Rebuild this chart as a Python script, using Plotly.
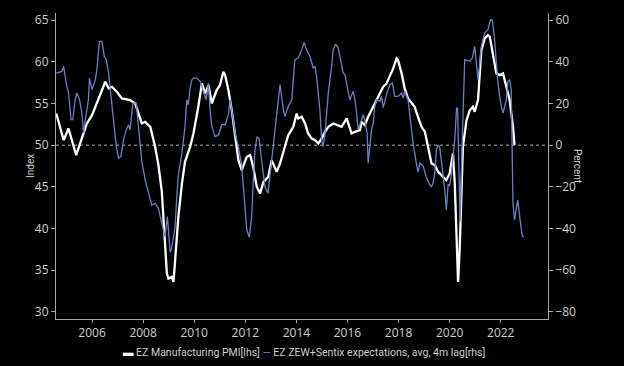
import plotly.graph_objects as go

# EZ Manufacturing PMI (left axis), time in decimal years
pmi_t = [2004.60, 2004.89, 2005.08, 2005.38, 2005.61, 2005.80, 2006.00, 2006.13, 2006.32, 2006.52,
         2006.65, 2006.78, 2006.97, 2007.17, 2007.49, 2007.69, 2007.82, 2007.95, 2008.08, 2008.28,
         2008.47, 2008.60, 2008.73, 2008.86, 2008.93, 2008.99, 2009.12, 2009.19, 2009.25, 2009.38,
         2009.52, 2009.64, 2009.84, 2009.97, 2010.16, 2010.30, 2010.43, 2010.56, 2010.69, 2010.88,
         2011.01, 2011.14, 2011.21, 2011.34, 2011.47, 2011.60, 2011.73, 2011.86, 2012.06, 2012.19,
         2012.31, 2012.45, 2012.58, 2012.71, 2012.90, 2013.03, 2013.23, 2013.36, 2013.49, 2013.68,
         2013.88, 2014.01, 2014.07, 2014.21, 2014.34, 2014.46, 2014.60, 2014.73, 2014.86, 2014.99,
         2015.12, 2015.25, 2015.44, 2015.64, 2015.77, 2015.97, 2016.09, 2016.16, 2016.29, 2016.49,
         2016.55, 2016.68, 2016.81, 2017.01, 2017.20, 2017.40, 2017.53, 2017.66, 2017.79, 2017.92,
         2017.98, 2018.12, 2018.24, 2018.37, 2018.51, 2018.63, 2018.76, 2018.90, 2019.03, 2019.16,
         2019.29, 2019.42, 2019.55, 2019.74, 2019.87, 2020.00, 2020.13, 2020.20, 2020.27, 2020.33,
         2020.39, 2020.46, 2020.52, 2020.66, 2020.79, 2020.91, 2020.98, 2021.11, 2021.18, 2021.24,
         2021.37, 2021.50, 2021.57, 2021.70, 2021.83, 2021.96, 2022.09, 2022.22, 2022.35, 2022.48,
         2022.54]
pmi = [53.8, 50.6, 52.0, 48.8, 50.9, 52.6, 53.6, 54.6, 56.2, 57.6,
       56.8, 57.0, 56.4, 55.6, 55.4, 55.0, 53.8, 52.6, 52.8, 52.2,
       49.8, 47.6, 44.5, 38.2, 34.6, 34.0, 34.2, 33.6, 35.8, 41.4,
       45.4, 48.0, 49.8, 51.4, 54.6, 57.4, 56.2, 57.2, 55.0, 56.6,
       57.2, 58.8, 58.4, 56.6, 54.2, 51.4, 48.2, 47.0, 48.6, 48.8,
       47.4, 45.0, 44.2, 45.6, 46.2, 48.2, 46.8, 47.8, 49.2, 51.2,
       52.2, 53.8, 53.2, 53.4, 52.6, 51.4, 50.8, 50.6, 50.2, 50.8,
       51.6, 52.2, 52.6, 52.4, 52.2, 53.2, 52.2, 51.4, 51.6, 51.8,
       52.8, 52.4, 53.4, 54.6, 55.8, 57.0, 57.4, 58.2, 59.2, 60.4,
       60.2, 58.6, 56.8, 55.6, 55.0, 54.6, 53.4, 52.2, 51.6, 49.5,
       47.8, 47.6, 46.8, 46.2, 45.8, 46.6, 49.0, 45.4, 39.4, 33.6,
       37.4, 45.4, 49.8, 53.0, 54.2, 54.6, 54.0, 55.4, 58.2, 61.4,
       62.8, 63.2, 63.0, 61.0, 58.6, 58.4, 58.6, 57.0, 55.4, 52.2,
       50.0]

# EZ ZEW+Sentix expectations, avg, 4m lag (right axis, percent)
zew_t = [2004.60, 2004.82, 2004.89, 2004.99, 2005.08, 2005.18, 2005.25, 2005.34, 2005.41, 2005.51,
         2005.61, 2005.67, 2005.74, 2005.86, 2005.90, 2006.00, 2006.13, 2006.19, 2006.29, 2006.39,
         2006.48, 2006.56, 2006.65, 2006.71, 2006.84, 2006.95, 2007.04, 2007.13, 2007.23, 2007.34,
         2007.43, 2007.49, 2007.60, 2007.73, 2007.82, 2007.95, 2008.08, 2008.21, 2008.34, 2008.47,
         2008.60, 2008.73, 2008.86, 2008.95, 2009.06, 2009.12, 2009.25, 2009.32, 2009.38, 2009.52,
         2009.64, 2009.71, 2009.77, 2009.84, 2009.91, 2009.97, 2010.10, 2010.23, 2010.36, 2010.47,
         2010.56, 2010.62, 2010.69, 2010.82, 2010.95, 2011.08, 2011.21, 2011.34, 2011.40, 2011.47,
         2011.60, 2011.73, 2011.86, 2011.95, 2012.06, 2012.16, 2012.25, 2012.31, 2012.38, 2012.46,
         2012.54, 2012.64, 2012.77, 2012.89, 2013.03, 2013.23, 2013.36, 2013.49, 2013.55, 2013.68,
         2013.82, 2013.94, 2014.07, 2014.21, 2014.30, 2014.40, 2014.53, 2014.66, 2014.73, 2014.79,
         2014.92, 2014.99, 2015.05, 2015.12, 2015.18, 2015.25, 2015.38, 2015.44, 2015.54, 2015.64,
         2015.73, 2015.83, 2015.90, 2016.03, 2016.09, 2016.22, 2016.29, 2016.36, 2016.42, 2016.55,
         2016.61, 2016.68, 2016.77, 2016.81, 2016.88, 2016.94, 2017.01, 2017.07, 2017.14, 2017.27,
         2017.33, 2017.40, 2017.53, 2017.66, 2017.76, 2017.85, 2017.98, 2018.12, 2018.18, 2018.24,
         2018.37, 2018.44, 2018.57, 2018.70, 2018.76, 2018.83, 2018.96, 2019.09, 2019.22, 2019.29,
         2019.35, 2019.42, 2019.48, 2019.55, 2019.61, 2019.74, 2019.81, 2019.87, 2019.94, 2020.00,
         2020.07, 2020.20, 2020.27, 2020.31, 2020.41, 2020.50, 2020.59, 2020.79, 2020.89, 2020.98,
         2021.05, 2021.11, 2021.18, 2021.24, 2021.37, 2021.50, 2021.60, 2021.67, 2021.76, 2021.83,
         2021.89, 2021.96, 2022.02, 2022.09, 2022.15, 2022.22, 2022.28, 2022.35, 2022.41, 2022.48,
         2022.54, 2022.66, 2022.75, 2022.84, 2022.90]
zew = [34.6, 35.4, 37.8, 29.8, 25.0, 12.2, 12.2, 21.8, 25.0, 21.8,
       14.6, 5.8, 12.2, 21.8, 32.2, 26.6, 31.4, 36.2, 49.8, 49.8,
       42.6, 41.0, 34.6, 26.6, 12.2, -0.7, -6.2, -5.5, 2.5, 7.3,
       9.8, 7.3, 20.2, 20.2, 7.3, -8.0, -16.7, -23.0, -28.7, -27.9,
       -30.3, -37.5, -43.9, -34.3, -51.2, -49.5, -39.1, -24.7, -14.3, -3.8,
       8.9, 21.8, 19.4, 27.4, 31.4, 32.2, 32.2, 30.6, 25.8, 21.8,
       29.8, 17.0, 8.9, 4.1, 4.9, 9.8, 9.8, 14.6, 21.8, 17.0,
       5.8, -0.7, -10.0, -25.0, -40.7, -44.2, -34.3, -18.3, -2.3, 4.1,
       3.0, -7.1, -20.0, -23.0, -8.0, 12.0, 29.0, 17.0, 13.7, 18.6,
       21.8, 41.0, 41.8, 45.8, 49.3, 45.8, 42.6, 37.0, 37.8, 33.0,
       17.0, 2.5, -0.7, 5.8, 17.0, 25.0, 37.8, 45.8, 48.5, 46.6,
       41.0, 34.6, 33.8, 25.0, 21.8, 25.8, 21.8, 15.4, 7.3, 12.2,
       14.6, 12.0, 5.8, -8.7, 1.0, 7.3, 10.6, 18.6, 21.8, 21.0,
       23.4, 18.0, 24.5, 29.0, 29.8, 23.4, 23.4, 25.0, 22.6, 26.0,
       21.8, 13.7, 1.0, -9.0, -13.0, -8.5, -10.0, -15.5, -19.0, -19.9,
       -18.3, -13.0, -2.3, 0.1, -1.0, -14.0, -21.5, -31.1, -18.8, -19.5,
       -13.5, 2.5, 17.8, 17.8, -36.5, 5.0, 41.0, 40.2, 41.8, 47.4,
       40.2, 31.4, 39.4, 47.4, 53.8, 55.4, 60.2, 59.9, 50.6, 37.8,
       29.8, 23.4, 18.6, 15.4, 18.6, 21.8, 30.6, 31.4, 26.6, -28.0,
       -35.9, -26.3, -35.0, -43.5, -44.2]

year_ticks = [2006, 2008, 2010, 2012, 2014, 2016, 2018, 2020, 2022]
left_ticks = [30, 35, 40, 45, 50, 55, 60, 65]
right_ticks = [-80, -60, -40, -20, 0, 20, 40, 60]

pmi_name = "EZ Manufacturing PMI[lhs]"
zew_name = "EZ ZEW+Sentix expectations, avg, 4m lag[rhs]"
pmi_color = "#ffffff"
zew_color = "#6d7ec4"

axis_col = "#a8a8a8"
text_col = "#cfcfcf"
tick_family = "Open Sans, sans-serif"
legend_family = "Roboto, sans-serif"

fig = go.Figure()
fig.add_trace(go.Scatter(
    x=zew_t, y=zew, yaxis="y2", mode="lines", name=zew_name,
    line=dict(color=zew_color, width=1.3)))
fig.add_trace(go.Scatter(
    x=pmi_t, y=pmi, mode="lines", name=pmi_name,
    line=dict(color=pmi_color, width=2.3)))

common = dict(showgrid=False, zeroline=False, showline=True, linecolor=axis_col,
              linewidth=1, ticks="outside", tickcolor=axis_col,
              tickfont=dict(size=12, color=text_col, family=tick_family))

legend_text = (f"<span style='color:{pmi_color}'><b>▬</b></span> {pmi_name} "
               f"<span style='color:{zew_color}'>—</span> {zew_name}")

fig.update_layout(
    width=624, height=366,
    paper_bgcolor="black", plot_bgcolor="black",
    margin=dict(l=56, r=76, t=13, b=47),
    font=dict(family=legend_family, color=text_col, size=11),
    xaxis=dict(range=[2004.59, 2023.85], tickvals=year_ticks, ticklen=3, **common),
    yaxis=dict(range=[29.15, 65.85], tickvals=left_ticks, ticklen=4, **common),
    yaxis2=dict(range=[-83.4, 63.4], tickvals=right_ticks, ticklen=4, overlaying="y",
                side="right", **common),
    showlegend=False,
    shapes=[dict(type="line", xref="paper", x0=0, x1=1, yref="y", y0=50, y1=50,
                 line=dict(color="#b0b0b0", width=1, dash="dot"), layer="below")],
    annotations=[
        dict(text="Index", xref="paper", yref="paper", x=-0.053, y=0.5, showarrow=False,
             xanchor="center", yanchor="middle", textangle=-90,
             font=dict(size=10, color=text_col, family=legend_family)),
        dict(text="Percent", xref="paper", yref="paper", x=1.061, y=0.5, showarrow=False,
             xanchor="center", yanchor="middle", textangle=90,
             font=dict(size=10, color=text_col, family=legend_family)),
        dict(text=legend_text, xref="paper", yref="paper", x=0.505, y=-0.108,
             showarrow=False, xanchor="center", yanchor="middle",
             font=dict(size=10.5, color=text_col, family=legend_family)),
    ],
)

fig.write_html(
    "out.html",
    config={"displayModeBar": False},
    post_script="document.body.style.margin='0';document.body.style.background='black';",
)
